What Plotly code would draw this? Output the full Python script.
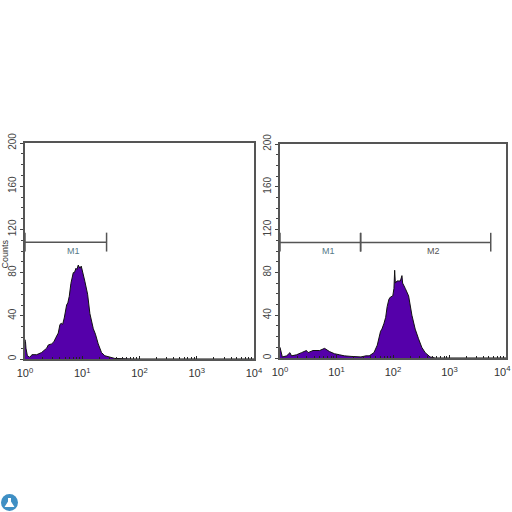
import plotly.graph_objects as go

left_x = [1.0, 1.02, 1.04, 1.10, 1.22, 1.32, 1.6, 1.95, 2.39, 2.55, 2.92, 3.2, 3.47, 3.81, 4.08, 4.3, 4.54, 4.85, 5.33,
          5.6, 5.93, 6.34, 6.97, 7.3, 7.76, 8.1, 8.51, 9.1, 9.6, 10.1, 11.1, 12.4, 13.6, 15.6, 17, 19, 21.7, 24.8, 30.4,
          37.2, 77, 10000]
left_y = [18, 16, 10, 3, 1.5, 4, 4, 6, 10, 13, 14, 16, 20, 24, 32, 33, 32, 38, 50,
          52, 58, 70, 80, 80, 84, 83, 87, 84, 86, 80, 72, 60, 42, 28, 23, 14, 6, 3, 1.5,
          0.5, 0, 0]
right_x = [1.0, 1.04, 1.10, 1.31, 1.50, 1.60, 1.96, 2.40, 2.94, 3.14, 3.84, 5.03, 6.15, 7.53, 9.2, 11.3, 13.8, 18.1,
           27.1, 33.1, 37.9, 46, 52.7, 60.2, 63.6, 68.9, 74.2, 78.8, 84.8, 90.2, 99.1, 103.9, 107, 110, 118, 127, 135,
           144, 148, 165, 189, 216, 247, 283, 323, 371, 454, 555, 10000]
right_y = [10, 6, 1, 2, 5, 2, 3, 5, 7, 5, 7, 7, 9, 6, 4, 3, 2, 1.5,
           1, 2, 2, 5, 12, 25, 27, 32, 38, 48, 55, 57, 58, 65, 82, 70, 72, 72, 72, 77, 70,
           65, 58, 40, 27, 18, 10, 5, 1, 0, 0]

gate_level = 108
gate_low = 99.5
gate_high = 117
left_m1 = [1.0, 26.6]
right_m1 = [1.0, 26.7]
right_m2 = [26.7, 5370]
y_ticks = [0, 40, 80, 120, 160, 200]
x_ticks = [1, 10, 100, 1000, 10000]
x_labels = ["10<sup>0</sup>", "10<sup>1</sup>", "10<sup>2</sup>", "10<sup>3</sup>", "10<sup>4</sup>"]

INK = "#555555"
FILL = "#5500aa"
LABEL_FONT = dict(family="Liberation Sans", size=11, color="#333333")
fig = go.Figure()


def hist(x, y, xa, ya):
    fig.add_trace(go.Scatter(x=x, y=y, xaxis=xa, yaxis=ya, mode="lines", fill="tozeroy",
                             fillcolor=FILL, line=dict(color="#111111", width=1)))


def gate(g, xa, ya):
    fig.add_trace(go.Scatter(x=g, y=[gate_level, gate_level], xaxis=xa, yaxis=ya, mode="lines",
                             line=dict(color=INK, width=1.5)))
    for v in g:
        fig.add_trace(go.Scatter(x=[v, v], y=[gate_low, gate_high], xaxis=xa, yaxis=ya, mode="lines",
                                 line=dict(color=INK, width=1.5)))


hist(left_x, left_y, "x", "y")
hist(right_x, right_y, "x2", "y2")
gate(left_m1, "x", "y")
gate(right_m1, "x2", "y2")
gate(right_m2, "x2", "y2")

xcommon = dict(type="log", range=[0, 4], ticks="inside", ticklen=3, ticklabelstandoff=3,
               tickcolor="#222222", showgrid=False, zeroline=False, showline=True, mirror=True, automargin=False,
               linecolor=INK, linewidth=2, tickfont=LABEL_FONT,
               minor=dict(ticks="inside", ticklen=2, tickcolor="#222222", dtick="D1", showgrid=False))
ycommon = dict(range=[0, 200], tickvals=y_ticks, ticks="outside", ticklen=3, tickangle=-90, automargin=False,
               tickcolor="#444444", showgrid=False, zeroline=False, showline=True, mirror=True,
               linecolor=INK, linewidth=2, tickfont=dict(family="Liberation Sans", size=10, color="#444444"),
               minor=dict(ticks="outside", ticklen=2, tickcolor="#444444", dtick=10, showgrid=False))

fig.update_layout(
    width=512, height=512, margin=dict(l=0, r=0, t=0, b=0), paper_bgcolor="white", plot_bgcolor="white",
    showlegend=False,
    xaxis=dict(domain=[25 / 512, 254 / 512], anchor="y", tickvals=x_ticks, ticktext=x_labels, **xcommon),
    yaxis=dict(domain=[1 - 359 / 512, 1 - 143 / 512], anchor="x", **ycommon),
    xaxis2=dict(domain=[280 / 512, 506 / 512], anchor="y2", tickvals=x_ticks[:-1], ticktext=x_labels[:-1], **xcommon),
    yaxis2=dict(domain=[1 - 358 / 512, 1 - 144 / 512], anchor="x2", **ycommon),
    annotations=[
        dict(text="M1", x=0.855, y=100, xref="x", yref="y", showarrow=False,
             font=dict(family="Liberation Sans", size=9, color="#557a88")),
        dict(text="M1", x=0.858, y=100, xref="x2", yref="y2", showarrow=False,
             font=dict(family="Liberation Sans", size=9, color="#557a88")),
        dict(text="M2", x=2.71, y=100, xref="x2", yref="y2", showarrow=False,
             font=dict(family="Liberation Sans", size=9, color="#555555")),
        dict(text="Counts", x=4.5 / 512, y=1 - 254 / 512, xref="paper", yref="paper", showarrow=False, textangle=-90,
             xanchor="center", yanchor="middle",
             font=dict(family="Liberation Sans", size=9, color="#333333")),
        dict(text=x_labels[-1], x=4, y=1 - 363 / 512, xref="x2", yref="paper", showarrow=False,
             xanchor="center", yanchor="top", font=LABEL_FONT, xshift=-4, borderpad=0),
    ],
    shapes=[
        dict(type="circle", xref="paper", yref="paper", x0=1 / 512, x1=18 / 512, y0=1 / 512,
             y1=18 / 512, fillcolor="#3f8fc4", line=dict(width=0)),
        dict(type="path", xref="paper", yref="paper",
             path=f"M {8/512} {14/512} L {11/512} {14/512} L {11/512} {10.5/512} L {14.5/512} {5/512} L {4.5/512} {5/512} L {8/512} {10.5/512} Z",
             fillcolor="white", line=dict(width=0)),
    ],
)
fig.write_html("out.html", config={"displayModeBar": False}, post_script="document.body.style.margin='0';")
